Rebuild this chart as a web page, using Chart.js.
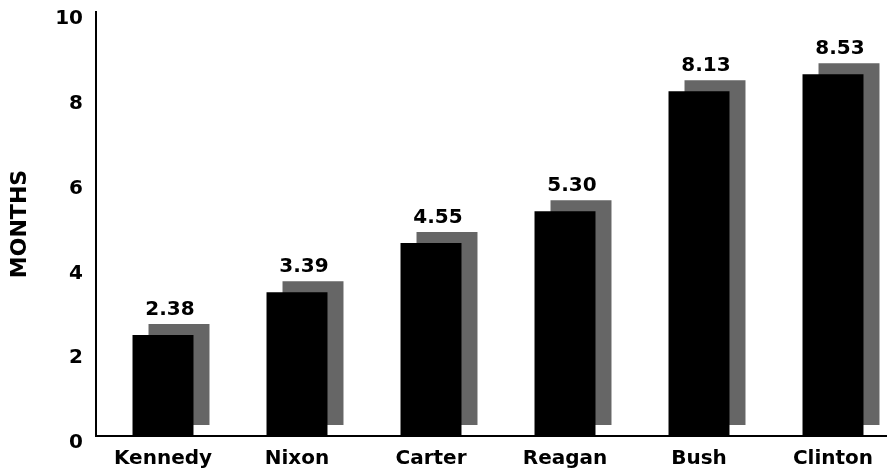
<!DOCTYPE html>
<html>
<head>
<meta charset="utf-8">
<script src="https://cdn.jsdelivr.net/npm/chart.js@4"></script>
<style>
  body { margin: 0; overflow: hidden; background: #fff; }
  #wrap { width: 887px; height: 472px; overflow: hidden; }
</style>
</head>
<body>
<div id="wrap">
  <canvas id="monthsChart" width="902" height="472"></canvas>
</div>
<script>
const presidents = ["Kennedy", "Nixon", "Carter", "Reagan", "Bush", "Clinton"];
const months = [2.38, 3.39, 4.55, 5.30, 8.13, 8.53];
const yTicks = [0, 2, 4, 6, 8, 10];

const fontFamily = "'DejaVu Sans', Verdana, sans-serif";

// drop shadow behind each bar, up and to the right
const barShadow = {
    id: "barShadow",
    beforeDatasetsDraw(chart) {
        const ctx = chart.ctx;
        ctx.save();
        ctx.shadowColor = "#666666";
        ctx.shadowBlur = 0;
        ctx.shadowOffsetX = 16;
        ctx.shadowOffsetY = -11;
    },
    afterDatasetsDraw(chart) {
        const ctx = chart.ctx;
        ctx.restore();

        ctx.save();
        ctx.font = "bold 20px " + fontFamily;
        ctx.fillStyle = "#000";
        ctx.textAlign = "center";
        ctx.textBaseline = "alphabetic";
        chart.getDatasetMeta(0).data.forEach((bar, i) => {
            ctx.fillText(months[i].toFixed(2), bar.x + 7, bar.y - 20);
        });
        ctx.restore();
    }
};

const ctx = document.getElementById("monthsChart").getContext("2d");

new Chart(ctx, {
    type: "bar",
    data: {
        labels: presidents,
        datasets: [{
            data: months,
            backgroundColor: "#000",
            borderWidth: 0,
            barPercentage: 0.455,
            categoryPercentage: 1,
        }],
    },
    options: {
        responsive: false,
        animation: false,
        layout: { padding: { left: 0, right: 2, top: 0, bottom: 0 } },
        plugins: {
            legend: { display: false },
            tooltip: { enabled: false },
        },
        scales: {
            x: {
                grid: { display: false, drawTicks: false },
                border: { display: true, color: "#000", width: 2 },
                ticks: {
                    color: "#000",
                    padding: 11,
                    font: { family: fontFamily, size: 20, weight: "bold" },
                },
                afterFit: (scale) => { scale.height = 36; },
            },
            y: {
                min: 0,
                max: 10,
                afterBuildTicks: (scale) => {
                    scale.ticks = yTicks.map((v) => ({ value: v }));
                },
                grid: { display: false, drawTicks: false },
                border: { display: true, color: "#000", width: 2 },
                ticks: {
                    color: "#000",
                    padding: 13,
                    labelOffset: 7,
                    font: { family: fontFamily, size: 20, weight: "bold" },
                },
                title: {
                    display: true,
                    text: "MONTHS",
                    color: "#000",
                    padding: { top: 7, bottom: 0 },
                    font: { family: fontFamily, size: 22, weight: "bold" },
                },
                afterFit: (scale) => {
                    scale.width = 96;
                    scale.paddingTop = 12;
                    scale.paddingBottom = 0;
                },
            },
        },
    },
    plugins: [barShadow],
});
</script>
</body>
</html>
